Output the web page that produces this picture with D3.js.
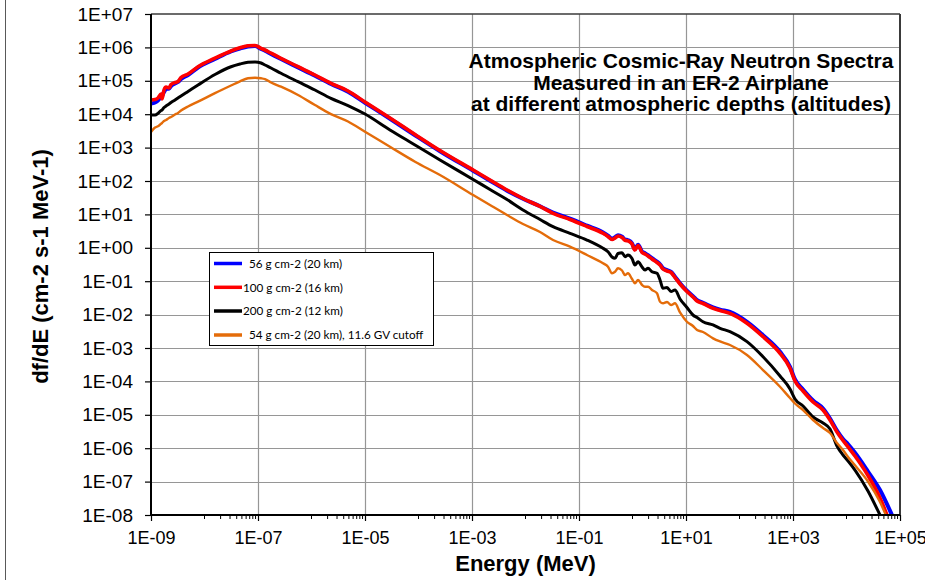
<!DOCTYPE html>
<html><head><meta charset="utf-8">
<script src="https://cdn.jsdelivr.net/npm/d3@7"></script>
<style>
html,body{margin:0;padding:0;background:#fff;}
svg{display:block;font-family:"Liberation Sans",Arial,sans-serif;}
</style></head><body>
<svg id="chart" width="925" height="580"></svg>
<script>
// Energy grid (MeV)
const energy = [
  1.00e-9, 1.19e-9, 1.35e-9, 1.54e-9, 1.61e-9, 1.75e-9, 1.91e-9, 2.17e-9, 2.37e-9, 2.81e-9,
  3.20e-9, 3.64e-9, 4.92e-9, 7.57e-9, 1.57e-8, 3.13e-8, 4.61e-8, 6.50e-8, 8.79e-8, 1.14e-7, 1.35e-7, 1.75e-7, 2.69e-7,
  5.60e-7, 1.16e-6, 2.31e-6, 4.81e-6, 1.00e-5, 2.93e-5, 8.61e-5, 2.52e-4, 1.05e-3, 2.17e-3,
  4.51e-3, 8.97e-3, 1.87e-2, 3.27e-2, 6.79e-2, 0.141, 0.281, 0.348, 0.414, 0.471,
  0.536, 0.637, 0.724, 0.824, 0.980, 1.11, 1.27, 1.51, 1.71, 1.95,
  2.31, 2.87, 3.27, 3.72, 4.42, 5.25, 6.22, 7.73, 10.4, 13.5,
  16.1, 20.8, 32.0, 43.3, 66.4, 138, 275, 572, 879, 1090,
  1540, 2370, 3640, 4920, 6640, 8610, 10700, 14400, 25200, 42300,
  70800, 100000
];
// df/dE, 56 g cm-2 (20 km)
const depth56 = [
  2.09e4, 2.24e4, 2.57e4, 3.27e4, 3.51e4, 4.62e4, 5.68e4, 5.88e4, 6.98e4, 8.30e4,
  9.20e4, 1.13e5, 1.49e5, 2.50e5, 4.50e5, 7.54e5, 9.27e5, 1.06e6, 1.10e6, 8.96e5, 7.97e5, 6.39e5, 4.50e5,
  2.52e5, 1.42e5, 8.01e4, 4.72e4, 2.21e4, 7.33e3, 2.35e3, 780, 203, 102,
  51.3, 29.5, 17.6, 11.4, 7.43, 4.60, 2.88, 2.30, 1.87, 2.07,
  2.38, 2.15, 1.78, 1.69, 1.37, 0.908, 1.24, 0.764, 0.689, 0.600,
  0.488, 0.384, 0.322, 0.245, 0.214, 0.192, 0.136, 0.0871, 0.0520, 0.0356,
  0.0270, 0.0227, 0.0164, 0.0141, 0.0121, 0.00610, 0.00242, 7.69e-4, 2.74e-4, 1.14e-4,
  5.72e-5, 2.68e-5, 1.54e-5, 7.74e-6, 3.38e-6, 1.89e-6, 1.31e-6, 7.29e-7, 2.00e-7, 5.61e-8,
  1.00e-8, 2.9e-9
];
// df/dE, 100 g cm-2 (16 km)
const depth100 = [
  2.66e4, 2.75e4, 3.06e4, 4.03e4, 2.85e4, 5.31e4, 6.52e4, 6.09e4, 7.75e4, 8.89e4,
  9.53e4, 1.26e5, 1.60e5, 2.64e5, 4.75e5, 7.80e5, 9.73e5, 1.12e6, 1.14e6, 9.40e5, 8.36e5, 6.70e5, 4.72e5,
  2.64e5, 1.49e5, 8.41e4, 4.95e4, 2.32e4, 7.69e3, 2.47e3, 818, 213, 107,
  53.8, 29.9, 17.3, 10.8, 7.03, 4.35, 2.72, 2.18, 1.77, 1.96,
  2.25, 2.03, 1.68, 1.60, 1.30, 0.859, 1.17, 0.723, 0.652, 0.568,
  0.462, 0.363, 0.305, 0.232, 0.202, 0.182, 0.129, 0.0824, 0.0492, 0.0337,
  0.0255, 0.0215, 0.0155, 0.0133, 0.0109, 0.00550, 0.00218, 6.93e-4, 2.47e-4, 1.03e-4,
  5.16e-5, 2.42e-5, 1.39e-5, 6.98e-6, 3.05e-6, 1.70e-6, 1.09e-6, 5.83e-7, 1.52e-7, 3.23e-8,
  4.08e-9, 1.03e-9
];
// df/dE, 200 g cm-2 (12 km)
const depth200 = [
  9.46e3, 9.46e3, 1.06e4, 1.29e4, 1.34e4, 1.59e4, 1.76e4, 2.02e4, 2.24e4, 2.66e4,
  3.06e4, 3.51e4, 4.79e4, 7.48e4, 1.55e5, 2.64e5, 3.18e5, 3.58e5, 3.66e5, 3.41e5, 2.97e5, 2.42e5, 1.68e5,
  9.40e4, 5.31e4, 2.99e4, 1.82e4, 1.01e4, 3.37e3, 1.20e3, 426, 111, 55.7,
  27.9, 13.6, 7.03, 4.29, 2.72, 1.71, 0.966, 0.764, 0.531, 0.485,
  0.675, 0.713, 0.542, 0.608, 0.479, 0.305, 0.384, 0.266, 0.216, 0.243,
  0.192, 0.173, 0.109, 0.0612, 0.0647, 0.0492, 0.0546, 0.0293, 0.0163, 0.00973,
  0.00818, 0.00612, 0.00489, 0.00389, 0.00308, 0.00155, 5.48e-4, 1.45e-4, 5.92e-5, 2.97e-5,
  1.83e-5, 8.59e-6, 5.68e-6, 3.76e-6, 1.16e-6, 6.25e-7, 4.14e-7, 2.22e-7, 5.24e-8, 1.00e-8,
  1.78e-9, 6.3e-10
];
// df/dE, 54 g cm-2 (20 km), 11.6 GV cutoff
const depth54cut = [
  2.93e3, 4.00e3, 4.34e3, 5.16e3, 5.46e3, 6.25e3, 6.70e3, 7.69e3, 8.24e3, 9.79e3,
  1.09e4, 1.29e4, 1.70e4, 2.37e4, 4.26e4, 7.23e4, 9.66e4, 1.19e5, 1.24e5, 1.19e5, 1.12e5, 8.89e4, 6.65e4,
  3.76e4, 1.88e4, 1.01e4, 6.04e3, 2.99e3, 1.06e3, 378, 151, 38.1, 19.1,
  9.59, 5.16, 2.97, 1.71, 1.08, 0.608, 0.344, 0.272, 0.173, 0.192,
  0.243, 0.209, 0.153, 0.173, 0.116, 0.0865, 0.109, 0.0769, 0.0684, 0.0684,
  0.0546, 0.0435, 0.0243, 0.0218, 0.0238, 0.0194, 0.0218, 0.0116, 0.00612, 0.00456,
  0.00346, 0.00301, 0.00195, 0.00157, 0.00123, 6.17e-4, 2.19e-4, 6.93e-5, 3.18e-5, 2.18e-5,
  1.39e-5, 6.98e-6, 4.03e-6, 2.85e-6, 1.43e-6, 8.83e-7, 5.46e-7, 3.07e-7, 1.01e-7, 2.45e-8,
  3.56e-9, 8.95e-10
];
const seriesNames = ["56 g cm-2 (20 km)", "100 g cm-2 (16 km)", "200 g cm-2 (12 km)", "54 g cm-2 (20 km), 11.6 GV cutoff"];
const seriesValues = [depth56, depth100, depth200, depth54cut];
const seriesColors = ["#0000FF", "#FF0000", "#000000", "#E46C0A"];
const seriesWidths = [4, 3.6, 3, 2.4];

const xTickValues = [1e-9, 1e-7, 1e-5, 1e-3, 1e-1, 1e1, 1e3, 1e5];
const xTickLabels = ["1E-09", "1E-07", "1E-05", "1E-03", "1E-01", "1E+01", "1E+03", "1E+05"];
const xMinorDecades = [1e-8, 1e-6, 1e-4, 1e-2, 1, 1e2, 1e4];
const yTickValues = [1e7, 1e6, 1e5, 1e4, 1e3, 1e2, 1e1, 1, 1e-1, 1e-2, 1e-3, 1e-4, 1e-5, 1e-6, 1e-7, 1e-8];
const yTickLabels = ["1E+07", "1E+06", "1E+05", "1E+04", "1E+03", "1E+02", "1E+01", "1E+00",
  "1E-01", "1E-02", "1E-03", "1E-04", "1E-05", "1E-06", "1E-07", "1E-08"];
const titleLines = ["Atmospheric Cosmic-Ray Neutron Spectra", "Measured in an ER-2 Airplane", "at different atmospheric depths (altitudes)"];
const xTitle = "Energy (MeV)";
const yTitle = "df/dE (cm-2 s-1 MeV-1)";

const svg = d3.select("#chart");
const L = 151, R = 900, T = 14, B = 515;
const x = d3.scaleLog().domain([1e-9, 1e5]).range([L, R]);
const y = d3.scaleLog().domain([1e-8, 1e7]).range([B, T]);

// outer chart border (left edge visible)
svg.append("line").attr("x1", 5.5).attr("x2", 5.5).attr("y1", 0).attr("y2", 580)
  .attr("stroke", "#595959").attr("stroke-width", 1);

// gridlines
const grid = svg.append("g");
grid.selectAll("line.h").data(yTickValues.slice(1, -1)).join("line")
  .attr("x1", L).attr("x2", R).attr("y1", d => Math.round(y(d)) + 0.5).attr("y2", d => Math.round(y(d)) + 0.5)
  .attr("stroke", "#969696").attr("stroke-width", 1.2);
grid.selectAll("line.v").data(xTickValues.slice(1, -1)).join("line")
  .attr("y1", T).attr("y2", B).attr("x1", d => Math.round(x(d)) + 0.5).attr("x2", d => Math.round(x(d)) + 0.5)
  .attr("stroke", "#969696").attr("stroke-width", 1.2);

// axes
const yAxis = d3.axisLeft(y).tickValues(yTickValues).tickFormat((d, i) => yTickLabels[i]).tickSize(6).tickPadding(12);
const gy = svg.append("g").attr("transform", `translate(${L},0)`).call(yAxis);
gy.select(".domain").remove();
gy.selectAll(".tick line").attr("stroke", "#000").attr("stroke-width", 1.2);
gy.selectAll(".tick text").attr("font-size", 19).attr("fill", "#000").attr("font-family", "'Liberation Sans', Arial, sans-serif");

const xAxis = d3.axisBottom(x).tickValues(xTickValues).tickFormat((d, i) => xTickLabels[i]).tickSize(6).tickPadding(10);
const gx = svg.append("g").attr("transform", `translate(0,${B})`).call(xAxis);
gx.select(".domain").remove();
gx.selectAll(".tick line").attr("stroke", "#000").attr("stroke-width", 1.2);
gx.selectAll(".tick text").attr("font-size", 18).attr("fill", "#000").attr("font-family", "'Liberation Sans', Arial, sans-serif");

// minor ticks
const minorVals = [];
xMinorDecades.forEach(d => { for (let m = 1; m <= 9; m++) minorVals.push(d * m); });
svg.append("g").selectAll("line").data(minorVals).join("line")
  .attr("x1", d => x(d)).attr("x2", d => x(d)).attr("y1", B).attr("y2", B + 4)
  .attr("stroke", "#000").attr("stroke-width", 1);

// series
svg.append("clipPath").attr("id", "plotclip").append("rect")
  .attr("x", L).attr("y", T).attr("width", R - L).attr("height", B - T);
const line = d3.line().x(d => x(d[0])).y(d => y(d[1])).curve(d3.curveMonotoneX);
const gs = svg.append("g").attr("clip-path", "url(#plotclip)");
seriesValues.forEach((vals, i) => {
  gs.append("path").datum(energy.map((e, k) => [e, vals[k]]))
    .attr("d", line).attr("fill", "none").attr("stroke", seriesColors[i])
    .attr("stroke-width", seriesWidths[i]).attr("stroke-linejoin", "round");
});

// plot frame
svg.append("line").attr("x1", L).attr("x2", R).attr("y1", T).attr("y2", T).attr("stroke", "#3a3a3a").attr("stroke-width", 1.5);
svg.append("line").attr("x1", R).attr("x2", R).attr("y1", T).attr("y2", B).attr("stroke", "#3a3a3a").attr("stroke-width", 2);
svg.append("line").attr("x1", L).attr("x2", L).attr("y1", T).attr("y2", B + 1).attr("stroke", "#000").attr("stroke-width", 2);
svg.append("line").attr("x1", L - 1).attr("x2", R).attr("y1", B).attr("y2", B).attr("stroke", "#000").attr("stroke-width", 2);

// titles
const tg = svg.append("g").attr("font-weight", "bold").attr("font-size", 21).attr("text-anchor", "middle").attr("fill", "#000");
titleLines.forEach((t, i) => {
  tg.append("text").attr("x", 681).attr("y", 68 + i * 21.6).text(t);
});
svg.append("text").attr("x", (L + R) / 2).attr("y", 571).attr("text-anchor", "middle")
  .attr("font-weight", "bold").attr("font-size", 22).text(xTitle);
svg.append("text").attr("transform", `translate(48,${(T + B) / 2 + 2}) rotate(-90)`).attr("text-anchor", "middle")
  .attr("font-weight", "bold").attr("font-size", 22).text(yTitle);

// legend
const lg = svg.append("g");
lg.append("rect").attr("x", 209.5).attr("y", 252.5).attr("width", 224).attr("height", 93)
  .attr("fill", "#fff").attr("stroke", "#000").attr("stroke-width", 1);
const legendY = [263.5, 287.3, 311, 335];
const legendTextX = [249, 243, 243, 249];
seriesNames.forEach((n, i) => {
  lg.append("line").attr("x1", 214).attr("x2", 242).attr("y1", legendY[i]).attr("y2", legendY[i])
    .attr("stroke", seriesColors[i]).attr("stroke-width", 3.5);
  lg.append("text").attr("x", legendTextX[i]).attr("y", legendY[i] + 4.2)
    .attr("font-family", "Lato, 'Open Sans', sans-serif").attr("font-size", 11.7).text(n);
});
</script>
</body></html>
